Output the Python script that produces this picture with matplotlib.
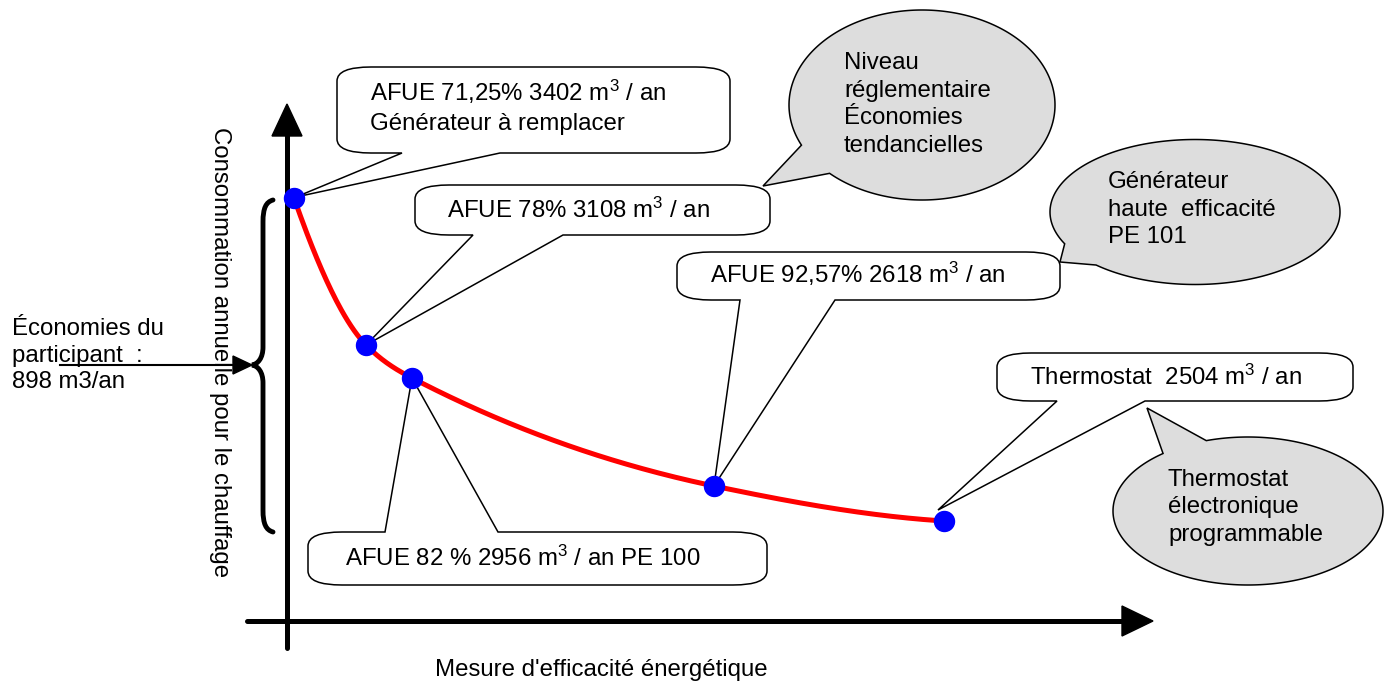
import numpy as np
import matplotlib
matplotlib.use("Agg")
import matplotlib.pyplot as plt
from matplotlib.path import Path
from matplotlib.patches import PathPatch, Polygon

# Points along the schematic curve (diagram units = pixels of the original drawing)
measure_x = [294, 366, 412, 714, 944]
level_y = [198, 345, 378, 486, 521]
consumption = [3402, 3108, 2956, 2618, 2504]
callout_texts = [
    ["AFUE 71,25% 3402 m$^3$ / an", "Générateur à remplacer"],
    ["AFUE 78% 3108 m$^3$ / an"],
    ["AFUE 82 % 2956 m$^3$ / an PE 100"],
    ["AFUE 92,57% 2618 m$^3$ / an"],
    ["Thermostat  2504 m$^3$ / an"],
]
bubble_texts = [
    ["Niveau", "réglementaire", "Économies", "tendancielles"],
    ["Générateur", "haute  efficacité", "PE 101"],
    ["Thermostat", "électronique", "programmable"],
]
savings_text = ["Économies du", "participant  :", "898 m3/an"]
y_label = "Consommation annuelle pour le chauffage"
x_label = "Mesure d'efficacité énergétique"

plt.rcParams["font.family"] = ["Liberation Sans", "DejaVu Sans"]
plt.rcParams["mathtext.fontset"] = "custom"
plt.rcParams["mathtext.rm"] = "Liberation Sans"
plt.rcParams["mathtext.it"] = "Liberation Sans"
plt.rcParams["mathtext.default"] = "rm"
FS = 17.3
LW_THIN = 1.1

fig = plt.figure(figsize=(13.89, 6.85), dpi=100)
ax = fig.add_axes([0, 0, 1, 1])
ax.set_xlim(0, 1389)
ax.set_ylim(685, 0)
ax.axis("off")


def pchip(x, y, xs):
    x = np.asarray(x, float)
    y = np.asarray(y, float)
    h = np.diff(x)
    d = np.diff(y) / h
    n = len(x)
    m = np.zeros(n)
    for k in range(1, n - 1):
        if d[k - 1] * d[k] > 0:
            w1 = 2 * h[k] + h[k - 1]
            w2 = h[k] + 2 * h[k - 1]
            m[k] = (w1 + w2) / (w1 / d[k - 1] + w2 / d[k])
    m[0] = ((2 * h[0] + h[1]) * d[0] - h[0] * d[1]) / (h[0] + h[1])
    m[-1] = ((2 * h[-1] + h[-2]) * d[-1] - h[-1] * d[-2]) / (h[-1] + h[-2])
    out = np.empty_like(xs)
    for i, xv in enumerate(xs):
        k = min(np.searchsorted(x, xv) - 1, n - 2)
        k = max(k, 0)
        t = (xv - x[k]) / h[k]
        h00 = 2 * t**3 - 3 * t**2 + 1
        h10 = t**3 - 2 * t**2 + t
        h01 = -2 * t**3 + 3 * t**2
        h11 = t**3 - t**2
        out[i] = h00 * y[k] + h10 * h[k] * m[k] + h01 * y[k + 1] + h11 * h[k] * m[k + 1]
    return out


def callout(x0, y0, x1, y1, wa, wb, tip, side, rx=34, ry=14):
    V = []
    C = []
    V.append((x0 + rx, y0)); C.append(Path.MOVETO)
    if side == "top":
        V += [(wa, y0), tip, (wb, y0)]; C += [Path.LINETO] * 3
    V += [(x1 - rx, y0), (x1, y0), (x1, y0 + ry)]; C += [Path.LINETO, Path.CURVE3, Path.CURVE3]
    V += [(x1, y1 - ry), (x1, y1), (x1 - rx, y1)]; C += [Path.LINETO, Path.CURVE3, Path.CURVE3]
    if side == "bottom":
        V += [(wb, y1), tip, (wa, y1)]; C += [Path.LINETO] * 3
    V += [(x0 + rx, y1), (x0, y1), (x0, y1 - ry)]; C += [Path.LINETO, Path.CURVE3, Path.CURVE3]
    V += [(x0, y0 + ry), (x0, y0), (x0 + rx, y0)]; C += [Path.LINETO, Path.CURVE3, Path.CURVE3]
    V.append((x0 + rx, y0)); C.append(Path.CLOSEPOLY)
    ax.add_patch(PathPatch(Path(V, C), facecolor="white", edgecolor="black",
                           lw=LW_THIN, zorder=2))


def bubble(cx, cy, w, h, a1, a2, tip):
    t = np.radians(np.linspace(a2, a1 + 360, 300))
    pts = np.column_stack([cx + w / 2 * np.cos(t), cy + h / 2 * np.sin(t)])
    pts = np.vstack([pts, tip])
    ax.add_patch(Polygon(pts, closed=True, facecolor="#DDDDDD", edgecolor="black",
                         lw=LW_THIN, zorder=2))


def lines_of_text(x, y_first, lines, pitch=27.5):
    for i, s in enumerate(lines):
        ax.text(x, y_first + i * pitch + 8, s, fontsize=FS, ha="left", va="baseline",
                zorder=6)


# axes with arrows
ax.plot([287, 287], [648, 130], color="black", lw=3.6, solid_capstyle="round", zorder=1)
ax.add_patch(Polygon([(287, 104), (272, 136), (302, 136)], color="black", zorder=1))
ax.plot([247, 1125], [621, 621], color="black", lw=3.6, solid_capstyle="round", zorder=1)
ax.add_patch(Polygon([(1153, 621), (1122, 606), (1122, 636)], color="black", zorder=1))

# brace
bv = [(273, 200), (266, 202), (263, 208), (263, 222),
      (263, 347), (263, 358), (258, 364), (252, 365),
      (258, 366), (263, 372), (263, 383),
      (263, 510), (263, 524), (266, 530), (273, 532)]
bc = [Path.MOVETO, Path.CURVE4, Path.CURVE4, Path.CURVE4,
      Path.LINETO, Path.CURVE4, Path.CURVE4, Path.CURVE4,
      Path.CURVE4, Path.CURVE4, Path.CURVE4,
      Path.LINETO, Path.CURVE4, Path.CURVE4, Path.CURVE4]
ax.add_patch(PathPatch(Path(bv, bc), facecolor="none", edgecolor="black", lw=3.5,
                       capstyle="round", zorder=1))

# arrow to brace
ax.plot([60, 236], [365, 365], color="black", lw=1.5, zorder=1)
ax.add_patch(Polygon([(252, 365), (233, 356), (233, 374)], color="black", zorder=1))
lines_of_text(12, 327, savings_text, pitch=26.5)

# axis labels
ax.text(220, 127, y_label, fontsize=FS, rotation=-90, ha="center", va="top")
ax.text(435, 676, x_label, fontsize=FS, ha="left", va="baseline")

# callouts
P = list(zip(measure_x, level_y))
callout(337, 67, 730, 153, 402, 500, (P[0][0] + 2, P[0][1] - 1), "bottom")
callout(415, 185, 770, 235, 473, 563, P[1], "bottom")
callout(308, 532, 767, 585, 385, 498, P[2], "top")
callout(677, 252, 1060, 300, 740, 835, P[3], "bottom")
callout(997, 353, 1353, 401, 1057, 1145, (P[4][0] - 6, P[4][1] - 11), "bottom")

lines_of_text(370, 93, callout_texts[0], pitch=29)
lines_of_text(447, 210, callout_texts[1])
lines_of_text(345, 558, callout_texts[2])
lines_of_text(710, 275, callout_texts[3])
lines_of_text(1030, 377, callout_texts[4])

# bubbles
bubble(922, 105, 266, 190, 134, 155, (763, 186))
bubble(1195, 212, 290, 145, 133, 154, (1060, 262))
bubble(1248, 511, 270, 148, 231, 252, (1147, 408))
lines_of_text(844, 61, bubble_texts[0])
lines_of_text(1108, 180, bubble_texts[1])
lines_of_text(1168, 478, bubble_texts[2])

# curve and points
xs = np.linspace(measure_x[0], measure_x[-1], 400)
ax.plot(xs, pchip(measure_x, level_y, xs), color="#FF0000", lw=3.6, zorder=3)
ax.plot(measure_x, level_y, "o", color="#0000FF", ms=14.4, zorder=5)

fig.savefig("out.png", dpi=100)
